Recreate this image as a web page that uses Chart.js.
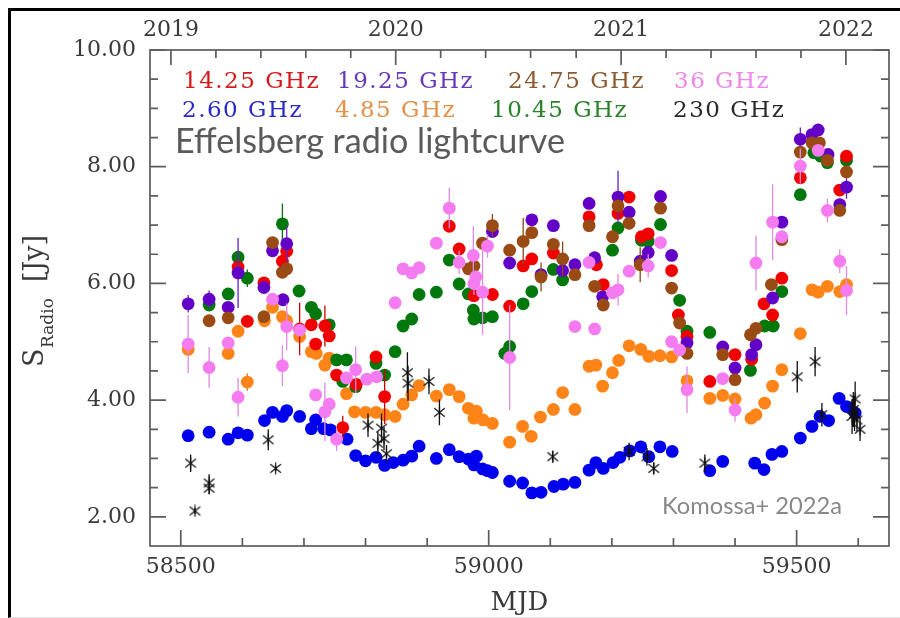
<!DOCTYPE html>
<html><head><meta charset="utf-8">
<script src="https://cdn.jsdelivr.net/npm/chart.js@4/dist/chart.umd.min.js"></script>
<style>
html,body{margin:0;padding:0;background:#fff;}
#wrap{position:relative;width:900px;height:618px;overflow:hidden;}
#frame{position:absolute;left:8px;top:8px;width:892px;height:606px;border-top:3px solid #000;border-left:3px solid #000;border-bottom:1px solid #e4e4e4;pointer-events:none;}
canvas{position:absolute;left:0;top:0;}
</style></head><body>
<div id="wrap"><canvas id="c" width="900" height="618"></canvas><div id="frame"></div></div>
<script>
// ---- data: [MJD, flux density (Jy), error (Jy)] ----
const f14_25 = [[58593,6.28],[58608,5.35],[58635,6.01],[58665,6.38],[58672,6.55],[58693,5.22,0.45],[58712,5.29],[58719,4.96],[58734,5.27,0.35],[58741,5.10],[58753,4.43],[58763,3.53,0.2],[58785,4.27],[58817,4.74],[58831,4.06,0.47],[58936,6.98],[58952,6.59],[58976,5.79],[59006,5.81],[59034,5.61],[59056,6.30],[59070,6.42],[59105,6.52],[59163,7.14],[59175,6.32],[59186,5.98],[59210,7.20],[59228,7.48],[59248,6.80],[59259,6.85],[59297,6.22],[59308,5.46],[59322,5.09],[59359,4.32],[59400,4.78],[59427,4.70],[59447,5.65],[59461,5.46],[59476,6.09],[59506,7.81],[59570,7.60],[59581,8.18]];
const f19_25 = [[58512,5.65,0.15],[58546,5.73,0.15],[58577,5.59],[58593,6.18,0.6],[58635,5.93],[58649,6.56],[58666,5.72],[58672,6.68,0.3],[59006,6.89],[59034,6.35],[59070,7.09],[59085,6.15],[59105,6.99],[59120,6.22],[59140,6.32],[59163,7.37],[59172,6.44],[59185,5.77],[59210,7.48,0.45],[59228,7.22],[59246,6.38],[59259,6.53],[59279,7.49],[59297,6.48],[59322,4.98],[59380,4.91],[59400,4.55],[59427,4.78],[59434,4.95],[59461,5.75],[59476,7.05],[59506,8.47,0.2],[59525,8.55],[59535,8.63],[59551,8.21],[59570,7.35],[59581,7.65,0.2]];
const f24_75 = [[58546,5.36],[58577,5.41],[58635,5.43],[58649,6.70],[58665,6.19],[58672,6.25],[58967,6.25],[58976,6.30],[58990,6.69],[59006,6.99,0.2],[59034,6.57],[59056,6.72,0.4],[59070,6.87],[59085,6.11,0.25],[59105,6.67],[59120,6.42,0.3],[59140,6.15],[59163,6.99],[59172,5.95],[59186,5.63],[59201,6.80],[59210,7.33],[59228,7.03],[59246,6.32,0.3],[59279,7.29],[59297,5.92],[59310,5.32],[59322,4.80],[59380,4.78],[59400,4.35],[59425,5.12],[59434,5.23],[59459,5.98],[59476,6.75],[59506,8.25],[59525,8.41],[59537,8.41],[59550,8.11],[59570,7.25],[59581,7.91]];
const f36 = [[58512,4.96,0.5],[58546,4.56,0.35],[58577,4.98],[58593,4.05,0.33],[58649,5.73],[58665,4.59,0.35],[58672,5.26,0.4],[58693,5.20],[58719,4.09],[58734,3.80,0.5],[58741,3.93],[58753,3.33,0.2],[58769,4.38],[58784,4.52,0.4],[58802,4.36],[58818,4.40],[58848,5.67],[58861,6.25],[58875,6.18],[58887,6.27],[58915,6.69],[58936,7.29,0.35],[58952,6.36,0.2],[58975,6.48,0.5],[58976,6.00,0.2],[58979,6.11],[58990,5.85,0.73],[58998,6.64,0.2],[59034,4.73,0.9],[59140,5.26],[59163,6.36],[59172,5.22],[59201,5.84],[59210,5.89,0.27],[59228,6.21],[59259,6.30,0.2],[59279,6.70],[59297,5.00],[59310,4.86],[59322,4.18,0.4],[59380,4.37],[59400,3.83,0.2],[59434,6.35,0.47],[59461,7.05,0.65],[59476,6.80],[59506,8.01,0.3],[59535,8.28],[59550,7.25,0.2],[59570,6.38,0.2],[59581,5.88,0.42]];
const f2_60 = [[58512,3.39],[58546,3.45],[58577,3.33],[58593,3.44],[58608,3.40],[58636,3.65],[58649,3.79],[58665,3.72],[58672,3.82],[58693,3.72],[58712,3.51],[58719,3.66],[58732,3.51],[58743,3.49],[58770,3.33],[58784,3.05],[58800,2.96],[58817,3.02],[58831,2.88],[58845,2.93],[58861,2.97],[58875,3.04],[58887,3.21],[58915,3.00],[58936,3.15],[58952,3.03],[58967,2.99],[58976,2.89],[58980,3.04],[58990,2.82],[58998,2.79],[59006,2.76],[59034,2.61],[59055,2.58],[59070,2.41],[59085,2.42],[59106,2.52],[59121,2.56],[59140,2.59],[59163,2.80],[59174,2.93],[59186,2.83],[59202,2.93],[59213,3.02],[59229,3.13],[59247,3.20],[59260,3.03],[59278,3.20],[59298,3.12],[59359,2.79],[59380,2.95],[59432,2.92],[59447,2.81],[59460,3.07],[59476,3.12],[59506,3.35],[59525,3.55],[59538,3.72],[59552,3.65],[59569,4.03],[59581,3.89],[59595,3.78]];
const f4_85 = [[58512,4.87],[58577,4.80],[58593,5.18],[58608,4.31,0.15],[58636,5.36],[58649,5.59],[58665,5.43],[58672,5.36],[58693,5.09],[58712,4.83],[58720,4.80],[58734,4.60],[58741,4.72],[58769,4.11],[58782,3.80],[58800,3.79],[58817,3.79],[58831,3.75],[58848,3.72],[58861,3.93],[58875,4.09],[58887,4.25],[58915,4.07],[58936,4.18],[58952,4.06],[58967,3.86],[58976,3.69],[58980,3.81],[58991,3.66],[59006,3.60],[59034,3.28],[59055,3.55],[59069,3.38],[59084,3.71],[59105,3.84],[59120,4.13],[59140,3.84],[59163,4.58],[59174,4.60],[59185,4.24],[59201,4.47],[59211,4.68],[59228,4.93],[59247,4.87],[59260,4.75],[59278,4.76],[59297,4.74],[59322,4.33],[59359,4.03],[59380,4.08],[59400,4.02],[59426,3.69],[59434,3.75],[59448,3.95],[59461,4.24],[59476,4.52],[59506,5.14],[59525,5.89],[59535,5.85],[59550,5.95],[59570,5.86],[59581,5.98]];
const f10_45 = [[58546,5.63],[58577,5.82],[58593,6.45],[58608,6.09,0.15],[58665,7.02,0.35],[58692,5.87],[58712,5.59],[58719,5.48],[58741,5.29],[58753,4.69],[58763,4.32],[58769,4.69],[58784,4.23],[58817,4.63],[58831,4.43],[58848,4.83],[58861,5.27],[58875,5.39],[58887,5.81],[58915,5.85],[58936,6.40],[58952,5.99],[58967,5.82],[58975,5.54],[58976,5.39],[58990,5.41],[59006,5.43],[59026,4.80],[59034,4.92],[59056,5.65],[59070,5.86],[59105,6.24],[59120,6.06],[59201,6.57],[59210,6.95],[59248,6.74],[59259,6.72],[59279,7.01],[59310,5.71],[59322,5.18],[59359,5.16],[59425,4.51],[59448,5.27],[59462,5.27],[59476,5.86],[59506,7.52],[59528,8.24],[59539,8.18],[59550,8.07],[59581,8.11]];
const f230 = [[58516,2.92,0.15],[58523,2.10,0.05],[58546,2.58,0.15],[58546,2.49,0.1],[58642,3.32,0.18],[58654,2.83,0.05],[58804,3.57,0.2],[58820,3.26,0.2],[58826,3.52,0.25],[58830,3.34,0.2],[58834,3.08,0.15],[58868,4.47,0.35],[58869,4.29,0.3],[58903,4.32,0.22],[58920,3.79,0.22],[59104,3.03,0.1],[59228,3.12,0.15],[59257,3.03,0.15],[59268,2.83,0.1],[59351,2.92,0.15],[59501,4.40,0.27],[59530,4.66,0.25],[59541,3.75,0.2],[59590,3.72,0.3],[59592,3.84,0.3],[59594,3.77,0.3],[59595,4.02,0.3],[59598,3.66,0.2],[59603,3.50,0.2]];

const seriesNames = ['14.25 GHz','19.25 GHz','24.75 GHz','36 GHz','2.60 GHz','4.85 GHz','10.45 GHz','230 GHz'];
const seriesData  = [f14_25, f19_25, f24_75, f36, f2_60, f4_85, f10_45, f230];

// axis ticks
const xTicks = [58500,58600,58700,58800,58900,59000,59100,59200,59300,59400,59500,59600];
const xLabeled = [58500,59000,59500];
const yearTicks = [58484,58849,59215,59580];
const yearLabels = ['2019','2020','2021','2022'];
const yearMinorTicks = [58557,58630,58703,58776,58922,58995,59068,59142,59288,59361,59434,59507];
const yTicks = [2,2.5,3,3.5,4,4.5,5,5.5,6,6.5,7,7.5,8,8.5,9,9.5,10];
const yLabeled = [2,4,6,8,10];

// ---- styles ----
const markColors = ['#f20000','#6200c8','#9a4b14','#f47cf0','#0000ee','#ff8418','#00780c','#111111'];
const barColors  = ['#c80000','#6a20c0','#8a4a18','#e08ae0','#0000cc','#e87818','#106a10','#111111'];
const legendColors = ['#d81818','#6838b8','#8e5a30','#ee86ee','#2a2ac8','#e49048','#2a822a','#2a2a2a'];
const legendPos = [[183,88],[337,88],[508,88],[674,88],[182,117],[335,117],[491,117],[673,117]];
const drawOrder = [5,4,3,2,8,7,6,1];

function makeAsterisk(){
  const c = document.createElement('canvas'); c.width = 13; c.height = 13;
  const g = c.getContext('2d'); g.strokeStyle = '#111'; g.lineWidth = 1.2;
  g.beginPath();
  g.moveTo(6.5,0.5); g.lineTo(6.5,12.5);
  g.moveTo(1.2,2.2); g.lineTo(11.8,10.8);
  g.moveTo(11.8,2.2); g.lineTo(1.2,10.8);
  g.stroke();
  return c;
}
const asterisk = makeAsterisk();

const datasets = seriesData.map((arr,i) => ({
  label: seriesNames[i],
  data: arr.map(p => ({x:p[0], y:p[1], e:p[2]||0})),
  showLine: false,
  order: drawOrder[i],
  pointStyle: i===7 ? asterisk : 'circle',
  pointRadius: i===7 ? 6 : 6.4,
  pointHoverRadius: i===7 ? 6 : 6.4,
  pointBorderWidth: 0,
  pointBackgroundColor: markColors[i],
  pointBorderColor: markColors[i],
  barColor: barColors[i]
}));

const AX = '#5c5c5c', LBL = '#3a3a3a';

const decor = {
  id: 'decor',
  beforeDatasetsDraw(chart){
    const {ctx, chartArea:a, scales} = chart;
    ctx.save();
    ctx.strokeStyle = AX; ctx.lineWidth = 1.7;
    ctx.strokeRect(a.left, a.top, a.right-a.left, a.bottom-a.top);
    ctx.beginPath();
    scales.x.ticks.forEach(t => {
      const p = scales.x.getPixelForValue(t.value);
      const L = xLabeled.includes(t.value) ? 16 : 8;
      ctx.moveTo(p, a.bottom); ctx.lineTo(p, a.bottom - L);
    });
    scales.xTop.ticks.forEach(t => {
      const p = scales.xTop.getPixelForValue(t.value);
      const L = yearTicks.includes(t.value) ? 15 : 8;
      ctx.moveTo(p, a.top); ctx.lineTo(p, a.top + L);
    });
    scales.y.ticks.forEach(t => {
      const p = scales.y.getPixelForValue(t.value);
      const L = yLabeled.includes(t.value) ? 16 : 8;
      ctx.moveTo(a.left, p); ctx.lineTo(a.left + L, p);
      ctx.moveTo(a.right, p); ctx.lineTo(a.right - L, p);
    });
    ctx.stroke();
    ctx.restore();
  },
  beforeDatasetDraw(chart, args){
    const ds = chart.data.datasets[args.index];
    const {ctx, chartArea:a, scales:{x, y}} = chart;
    ctx.save();
    ctx.beginPath(); ctx.rect(a.left, a.top, a.right-a.left, a.bottom-a.top); ctx.clip();
    ctx.strokeStyle = ds.barColor; ctx.lineWidth = 1.3;
    ctx.beginPath();
    ds.data.forEach(p => {
      if (p.e) {
        const px = x.getPixelForValue(p.x);
        ctx.moveTo(px, y.getPixelForValue(p.y - p.e));
        ctx.lineTo(px, y.getPixelForValue(p.y + p.e));
      }
    });
    ctx.stroke();
    ctx.restore();
  },
  afterDraw(chart){
    const {ctx, chartArea:a} = chart;
    ctx.save();
    // legend texts
    ctx.font = '23px "DejaVu Serif"';
    ctx.textBaseline = 'alphabetic'; ctx.textAlign = 'left';
    try { ctx.letterSpacing = '1.5px'; } catch(e) {}
    seriesNames.forEach((n,i) => {
      ctx.fillStyle = legendColors[i];
      ctx.fillText(n, legendPos[i][0], legendPos[i][1]);
    });
    try { ctx.letterSpacing = '0px'; } catch(e) {}
    // annotation texts
    const fit = (txt, w) => { ctx.font = '30px Lato'; const m = ctx.measureText(txt).width; return 30*w/m; };
    const t1 = 'Effelsberg radio lightcurve';
    ctx.font = fit(t1, 390).toFixed(2) + 'px Lato';
    ctx.fillStyle = '#5a5a5a';
    ctx.fillText(t1, 175, 153);
    const t2 = 'Komossa+ 2022a';
    ctx.font = fit(t2, 180).toFixed(2) + 'px Lato';
    ctx.fillStyle = '#888888';
    ctx.fillText(t2, 662, 514);
    // x title
    ctx.fillStyle = LBL;
    ctx.font = '26px "DejaVu Serif"';
    ctx.textAlign = 'center';
    ctx.fillText('MJD', (a.left + a.right)/2, 610);
    // y title (rotated)
    ctx.textAlign = 'left';
    ctx.rotate(-Math.PI/2);
    ctx.font = '27px "DejaVu Serif"';
    ctx.fillText('S', -367, 43);
    ctx.font = '17px "DejaVu Serif"';
    ctx.fillText('Radio', -348, 53);
    ctx.font = '27px "DejaVu Serif"';
    ctx.fillText('[Jy]', -282, 43);
    ctx.restore();
  }
};

Chart.defaults.font.family = '"DejaVu Serif"';
new Chart(document.getElementById('c'), {
  type: 'scatter',
  data: { datasets },
  options: {
    responsive: false, animation: false, devicePixelRatio: 1,
    layout: { padding: 0 },
    plugins: { legend: {display:false}, tooltip: {enabled:false}, title: {display:false} },
    scales: {
      x: {
        type: 'linear', position: 'bottom', min: 58450, max: 59650,
        afterBuildTicks: s => { s.ticks = xTicks.map(v => ({value:v})); },
        afterFit: s => { s.height = 72; },
        grid: {display:false, drawTicks:false}, border: {display:false},
        ticks: { autoSkip:false, maxRotation:0, padding: 8, color: LBL, font: {size:22},
          callback: v => xLabeled.includes(v) ? String(v) : '' }
      },
      xTop: {
        type: 'linear', axis: 'x', position: 'top', min: 58450, max: 59650,
        afterBuildTicks: s => { s.ticks = yearTicks.concat(yearMinorTicks).sort((p,q)=>p-q).map(v => ({value:v})); },
        afterFit: s => { s.height = 50; },
        grid: {display:false, drawTicks:false}, border: {display:false},
        ticks: { autoSkip:false, maxRotation:0, padding: 7, color: LBL, font: {size:22},
          callback: v => { const k = yearTicks.indexOf(v); return k >= 0 ? yearLabels[k] : ''; } }
      },
      y: {
        type: 'linear', position: 'left', min: 1.5, max: 10,
        afterBuildTicks: s => { s.ticks = yTicks.map(v => ({value:v})); },
        afterFit: s => { s.width = 150; },
        grid: {display:false, drawTicks:false}, border: {display:false},
        ticks: { autoSkip:false, padding: 14, color: LBL, font: {size:22},
          callback: v => yLabeled.includes(v) ? v.toFixed(2) : '' }
      },
      yRight: {
        type: 'linear', axis: 'y', position: 'right', min: 1.5, max: 10,
        afterFit: s => { s.width = 11; },
        grid: {display:false, drawTicks:false}, border: {display:false},
        ticks: { display:false }
      }
    }
  },
  plugins: [decor]
});
</script>
</body></html>
